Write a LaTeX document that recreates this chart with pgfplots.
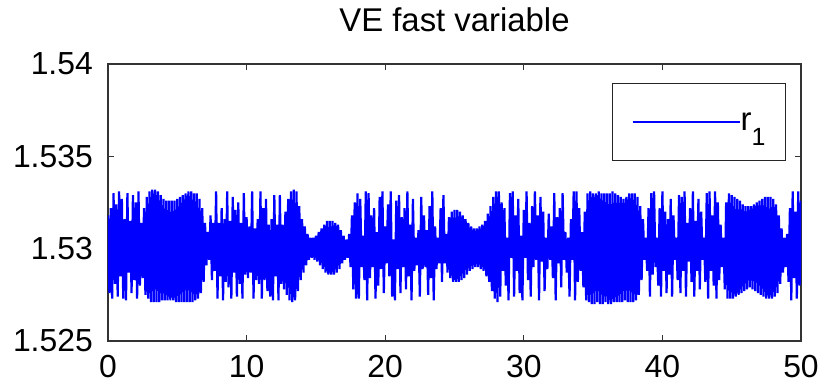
\documentclass[border=0pt]{standalone}
\usepackage{fontspec}
\setmainfont{Liberation Sans}
\usepackage{pgfplots}
\pgfplotsset{compat=1.18}
\usepackage{pgfplotstable}
\pgfplotstableread{
x y
0.0 1.5318
0.1 1.5276
0.2 1.5322
0.3 1.5273
0.4 1.5330
0.5 1.5281
0.6 1.5324
0.7 1.5274
0.8 1.5331
0.9 1.5285
1.0 1.5327
1.1 1.5273
1.2 1.5316
1.3 1.5272
1.4 1.5330
1.5 1.5287
1.6 1.5315
1.7 1.5276
1.8 1.5329
1.9 1.5283
2.0 1.5325
2.1 1.5273
2.2 1.5331
2.3 1.5280
2.4 1.5314
2.5 1.5284
2.6 1.5322
2.7 1.5275
2.8 1.5328
2.9 1.5273
3.0 1.5331
3.1 1.5271
3.2 1.5332
3.3 1.5271
3.4 1.5332
3.5 1.5271
3.6 1.5331
3.7 1.5271
3.8 1.5329
3.9 1.5272
4.0 1.5327
4.1 1.5272
4.2 1.5326
4.3 1.5272
4.4 1.5326
4.5 1.5272
4.6 1.5326
4.7 1.5272
4.8 1.5326
4.9 1.5271
5.0 1.5327
5.1 1.5271
5.2 1.5328
5.3 1.5271
5.4 1.5329
5.5 1.5271
5.6 1.5330
5.7 1.5271
5.8 1.5331
5.9 1.5271
6.0 1.5331
6.1 1.5271
6.2 1.5330
6.3 1.5272
6.4 1.5330
6.5 1.5273
6.6 1.5327
6.7 1.5276
6.8 1.5322
6.9 1.5282
7.0 1.5314
7.1 1.5291
7.2 1.5309
7.3 1.5294
7.4 1.5318
7.5 1.5283
7.6 1.5314
7.7 1.5288
7.8 1.5331
7.9 1.5273
8.0 1.5314
8.1 1.5285
8.2 1.5322
8.3 1.5272
8.4 1.5316
8.5 1.5282
8.6 1.5331
8.7 1.5279
8.8 1.5315
8.9 1.5273
9.0 1.5328
9.1 1.5287
9.2 1.5321
9.3 1.5274
9.4 1.5325
9.5 1.5281
9.6 1.5314
9.7 1.5273
9.8 1.5330
9.9 1.5286
10.0 1.5317
10.1 1.5284
10.2 1.5312
10.3 1.5287
10.4 1.5331
10.5 1.5273
10.6 1.5311
10.7 1.5283
10.8 1.5316
10.9 1.5281
11.0 1.5331
11.1 1.5273
11.2 1.5322
11.3 1.5283
11.4 1.5327
11.5 1.5277
11.6 1.5313
11.7 1.5274
11.8 1.5316
11.9 1.5272
12.0 1.5329
12.1 1.5285
12.2 1.5313
12.3 1.5272
12.4 1.5329
12.5 1.5281
12.6 1.5313
12.7 1.5278
12.8 1.5320
12.9 1.5275
13.0 1.5327
13.1 1.5272
13.2 1.5331
13.3 1.5271
13.4 1.5332
13.5 1.5272
13.6 1.5331
13.7 1.5277
13.8 1.5323
13.9 1.5283
14.0 1.5316
14.1 1.5287
14.2 1.5312
14.3 1.5291
14.4 1.5308
14.5 1.5294
14.6 1.5306
14.7 1.5295
14.8 1.5306
14.9 1.5294
15.0 1.5307
15.1 1.5293
15.2 1.5309
15.3 1.5291
15.4 1.5311
15.5 1.5289
15.6 1.5313
15.7 1.5287
15.8 1.5315
15.9 1.5286
16.0 1.5315
16.1 1.5286
16.2 1.5315
16.3 1.5286
16.4 1.5314
16.5 1.5287
16.6 1.5313
16.7 1.5289
16.8 1.5310
16.9 1.5292
17.0 1.5307
17.1 1.5294
17.2 1.5305
17.3 1.5295
17.4 1.5308
17.5 1.5290
17.6 1.5318
17.7 1.5278
17.8 1.5325
17.9 1.5273
18.0 1.5330
18.1 1.5273
18.2 1.5327
18.3 1.5290
18.4 1.5307
18.5 1.5283
18.6 1.5331
18.7 1.5272
18.8 1.5330
18.9 1.5284
19.0 1.5318
19.1 1.5290
19.2 1.5322
19.3 1.5273
19.4 1.5309
19.5 1.5280
19.6 1.5328
19.7 1.5289
19.8 1.5331
19.9 1.5276
20.0 1.5312
20.1 1.5292
20.2 1.5324
20.3 1.5285
20.4 1.5331
20.5 1.5274
20.6 1.5305
20.7 1.5272
20.8 1.5326
20.9 1.5289
21.0 1.5329
21.1 1.5276
21.2 1.5317
21.3 1.5290
21.4 1.5322
21.5 1.5278
21.6 1.5331
21.7 1.5285
21.8 1.5313
21.9 1.5272
22.0 1.5327
22.1 1.5288
22.2 1.5306
22.3 1.5291
22.4 1.5310
22.5 1.5274
22.6 1.5328
22.7 1.5289
22.8 1.5318
22.9 1.5290
23.0 1.5310
23.1 1.5275
23.2 1.5323
23.3 1.5284
23.4 1.5331
23.5 1.5272
23.6 1.5312
23.7 1.5289
23.8 1.5306
23.9 1.5292
24.0 1.5322
24.1 1.5282
24.2 1.5329
24.3 1.5292
24.4 1.5308
24.5 1.5287
24.6 1.5317
24.7 1.5284
24.8 1.5320
24.9 1.5282
25.0 1.5321
25.1 1.5282
25.2 1.5321
25.3 1.5282
25.4 1.5320
25.5 1.5283
25.6 1.5318
25.7 1.5284
25.8 1.5316
25.9 1.5286
26.0 1.5314
26.1 1.5288
26.2 1.5312
26.3 1.5289
26.4 1.5311
26.5 1.5290
26.6 1.5311
26.7 1.5290
26.8 1.5312
26.9 1.5289
27.0 1.5313
27.1 1.5288
27.2 1.5315
27.3 1.5285
27.4 1.5319
27.5 1.5282
27.6 1.5323
27.7 1.5277
27.8 1.5328
27.9 1.5273
28.0 1.5331
28.1 1.5271
28.2 1.5331
28.3 1.5274
28.4 1.5325
28.5 1.5288
28.6 1.5322
28.7 1.5280
28.8 1.5306
28.9 1.5272
29.0 1.5330
29.1 1.5295
29.2 1.5331
29.3 1.5274
29.4 1.5318
29.5 1.5288
29.6 1.5327
29.7 1.5276
29.8 1.5307
29.9 1.5272
30.0 1.5321
30.1 1.5295
30.2 1.5331
30.3 1.5283
30.4 1.5314
30.5 1.5274
30.6 1.5323
30.7 1.5290
30.8 1.5331
30.9 1.5294
31.0 1.5318
31.1 1.5272
31.2 1.5328
31.3 1.5293
31.4 1.5320
31.5 1.5277
31.6 1.5306
31.7 1.5289
31.8 1.5319
31.9 1.5294
32.0 1.5312
32.1 1.5284
32.2 1.5330
32.3 1.5272
32.4 1.5317
32.5 1.5292
32.6 1.5322
32.7 1.5279
32.8 1.5330
32.9 1.5294
33.0 1.5309
33.1 1.5287
33.2 1.5306
33.3 1.5274
33.4 1.5316
33.5 1.5294
33.6 1.5331
33.7 1.5272
33.8 1.5331
33.9 1.5282
34.0 1.5322
34.1 1.5288
34.2 1.5309
34.3 1.5279
34.4 1.5320
34.5 1.5272
34.6 1.5330
34.7 1.5271
34.8 1.5331
34.9 1.5270
35.0 1.5330
35.1 1.5270
35.2 1.5330
35.3 1.5271
35.4 1.5331
35.5 1.5270
35.6 1.5330
35.7 1.5270
35.8 1.5330
35.9 1.5271
36.0 1.5330
36.1 1.5270
36.2 1.5330
36.3 1.5270
36.4 1.5331
36.5 1.5271
36.6 1.5330
36.7 1.5271
36.8 1.5329
36.9 1.5271
37.0 1.5328
37.1 1.5271
37.2 1.5327
37.3 1.5272
37.4 1.5328
37.5 1.5271
37.6 1.5330
37.7 1.5271
37.8 1.5330
37.9 1.5271
38.0 1.5330
38.1 1.5272
38.2 1.5328
38.3 1.5275
38.4 1.5323
38.5 1.5283
38.6 1.5316
38.7 1.5294
38.8 1.5306
38.9 1.5288
39.0 1.5322
39.1 1.5274
39.2 1.5330
39.3 1.5286
39.4 1.5331
39.5 1.5290
39.6 1.5306
39.7 1.5280
39.8 1.5322
39.9 1.5274
40.0 1.5331
40.1 1.5288
40.2 1.5320
40.3 1.5276
40.4 1.5316
40.5 1.5286
40.6 1.5327
40.7 1.5274
40.8 1.5318
40.9 1.5294
41.0 1.5306
41.1 1.5283
41.2 1.5329
41.3 1.5276
41.4 1.5328
41.5 1.5288
41.6 1.5331
41.7 1.5274
41.8 1.5314
41.9 1.5293
42.0 1.5322
42.1 1.5282
42.2 1.5331
42.3 1.5274
42.4 1.5315
42.5 1.5288
42.6 1.5327
42.7 1.5278
42.8 1.5320
42.9 1.5294
43.0 1.5306
43.1 1.5282
43.2 1.5330
43.3 1.5273
43.4 1.5331
43.5 1.5288
43.6 1.5318
43.7 1.5280
43.8 1.5331
43.9 1.5273
44.0 1.5325
44.1 1.5283
44.2 1.5313
44.3 1.5290
44.4 1.5306
44.5 1.5278
44.6 1.5325
44.7 1.5273
44.8 1.5330
44.9 1.5273
45.0 1.5329
45.1 1.5273
45.2 1.5328
45.3 1.5274
45.4 1.5327
45.5 1.5275
45.6 1.5326
45.7 1.5276
45.8 1.5324
45.9 1.5277
46.0 1.5323
46.1 1.5278
46.2 1.5323
46.3 1.5279
46.4 1.5323
46.5 1.5278
46.6 1.5324
46.7 1.5277
46.8 1.5325
46.9 1.5276
47.0 1.5326
47.1 1.5275
47.2 1.5327
47.3 1.5274
47.4 1.5328
47.5 1.5273
47.6 1.5328
47.7 1.5273
47.8 1.5328
47.9 1.5273
48.0 1.5327
48.1 1.5274
48.2 1.5324
48.3 1.5276
48.4 1.5318
48.5 1.5281
48.6 1.5311
48.7 1.5287
48.8 1.5306
48.9 1.5290
49.0 1.5308
49.1 1.5282
49.2 1.5322
49.3 1.5272
49.4 1.5331
49.5 1.5284
49.6 1.5320
49.7 1.5273
49.8 1.5331
49.9 1.5280
50.0 1.5326
}\sigtable
\begin{document}
\begin{tikzpicture}
\useasboundingbox (-108bp,-43bp) rectangle (713bp,341bp);
\begin{axis}[
  at={(0,0)}, anchor=south west,
  scale only axis, width=693bp, height=277bp,
  xmin=0, xmax=50, ymin=1.525, ymax=1.54,
  xtick={0,10,20,30,40,50}, xticklabels={0,10,20,30,40,50},
  ytick={1.525,1.53,1.535,1.54}, yticklabels={1.525,1.53,1.535,1.54},
  scaled y ticks=false, scaled x ticks=false,
  /pgf/number format/assume math mode=true,
  tick pos=both, tick align=inside, major tick length=6bp,
  axis line style={line width=1.2bp, black!80},
  tick style={line width=1bp, black!80},
  tick label style={font=\fontsize{32}{38}\selectfont, inner sep=0pt},
  xticklabel style={anchor=north, yshift=-14bp},
  yticklabel style={anchor=east, xshift=-15bp},
  title={VE fast variable},
  title style={font=\fontsize{33}{40}\selectfont, at={(0.5,1)}, anchor=base, yshift=27bp, inner sep=0pt},
  legend style={at={(1,1)}, anchor=north east, xshift=-15bp, yshift=-19bp,
    draw=black!85, line width=1bp, fill=white, inner xsep=20bp, inner ysep=29bp,
    font=\fontsize{33}{40}\selectfont, nodes={inner sep=0pt},
    /tikz/every even column/.append style={column sep=12bp}},
  legend image code/.code={\draw[#1, line width=1.6bp] (0bp,0bp) -- (107bp,0bp);},
]
\addplot[color=blue, line width=2.2bp, line join=bevel] table[x=x, y=y]{\sigtable};
\addlegendentry{r{\fontsize{25}{25}\selectfont\raisebox{-15bp}{1}}}
\end{axis}
\end{tikzpicture}
\end{document}
